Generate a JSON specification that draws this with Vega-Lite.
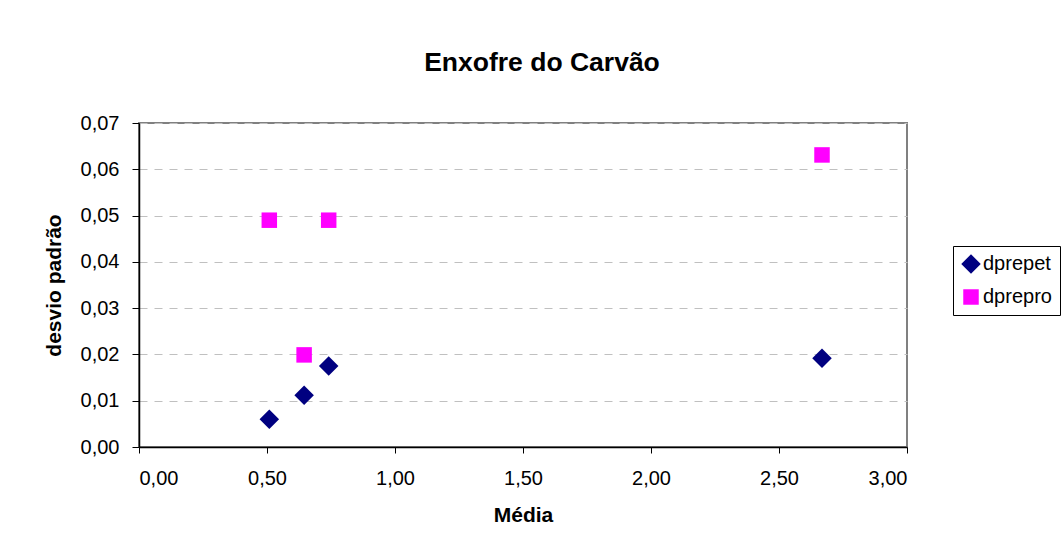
{
  "$schema": "https://vega.github.io/schema/vega-lite/v6.json",
  "width": 768,
  "height": 324,
  "autosize": "none",
  "padding": {"left": 139, "top": 123, "right": 157, "bottom": 111},
  "background": "white",
  "title": {
    "text": "Enxofre do Carvão",
    "font": "Liberation Sans",
    "fontSize": 26.5,
    "fontWeight": "bold",
    "color": "black",
    "anchor": "middle",
    "baseline": "alphabetic",
    "offset": 16,
    "dx": 19
  },
  "data": {
    "values": [
      {"serie": "dprepet", "media": 0.509, "desvio": 0.0060},
      {"serie": "dprepet", "media": 0.645, "desvio": 0.0112},
      {"serie": "dprepet", "media": 0.741, "desvio": 0.0175},
      {"serie": "dprepet", "media": 2.668, "desvio": 0.0192},
      {"serie": "dprepro", "media": 0.509, "desvio": 0.0490},
      {"serie": "dprepro", "media": 0.645, "desvio": 0.0199},
      {"serie": "dprepro", "media": 0.741, "desvio": 0.0490},
      {"serie": "dprepro", "media": 2.668, "desvio": 0.0631}
    ]
  },
  "mark": {"type": "point", "filled": true, "opacity": 1},
  "encoding": {
    "x": {
      "field": "media",
      "type": "quantitative",
      "title": "Média",
      "scale": {"domain": [0, 3], "nice": false, "zero": true},
      "axis": {
        "values": [0, 0.5, 1, 1.5, 2, 2.5, 3],
        "labelExpr": "replace(format(datum.value, '.2f'), '.', ',')",
        "grid": false,
        "tickSize": 6,
        "labelPadding": 15,
        "titlePadding": 16
      }
    },
    "y": {
      "field": "desvio",
      "type": "quantitative",
      "title": "desvio padrão",
      "scale": {"domain": [0, 0.07], "nice": false, "zero": true},
      "axis": {
        "values": [0, 0.01, 0.02, 0.03, 0.04, 0.05, 0.06, 0.07],
        "labelExpr": "replace(format(datum.value, '.2f'), '.', ',')",
        "grid": true,
        "gridColor": "#c0c0c0",
        "gridDash": [8, 7],
        "gridWidth": 1,
        "tickSize": 7,
        "labelPadding": 13,
        "titlePadding": 16
      }
    },
    "size": {
      "field": "serie",
      "type": "nominal",
      "scale": {"domain": ["dprepet", "dprepro"], "range": [380, 240]},
      "legend": null
    },
    "shape": {
      "field": "serie",
      "type": "nominal",
      "scale": {"domain": ["dprepet", "dprepro"], "range": ["diamond", "square"]},
      "legend": {
        "title": null,
        "orient": "none",
        "legendX": 814,
        "legendY": 123,
        "strokeColor": "black",
        "fillColor": "white",
        "padding": 8,
        "labelFontSize": 20,
        "labelFont": "Liberation Sans",
        "labelColor": "black",
        "symbolSize": 240,
        "symbolStrokeWidth": 0,
        "symbolOpacity": 1,
        "rowPadding": 13,
        "labelOffset": 2
      }
    },
    "color": {
      "field": "serie",
      "type": "nominal",
      "scale": {"domain": ["dprepet", "dprepro"], "range": ["#000080", "#ff00ff"]},
      "legend": {
        "title": null,
        "orient": "none",
        "legendX": 814,
        "legendY": 123,
        "strokeColor": "black",
        "fillColor": "white",
        "padding": 8,
        "labelFontSize": 20,
        "labelFont": "Liberation Sans",
        "labelColor": "black",
        "symbolSize": 240,
        "symbolStrokeWidth": 0,
        "symbolOpacity": 1,
        "rowPadding": 13,
        "labelOffset": 2
      }
    }
  },
  "config": {
    "view": {"stroke": "#808080", "strokeWidth": 2},
    "axis": {
      "labelFont": "Liberation Sans",
      "labelFontSize": 20,
      "labelColor": "black",
      "titleFont": "Liberation Sans",
      "titleFontSize": 21,
      "titleFontWeight": "bold",
      "titleColor": "black",
      "domainColor": "black",
      "domainWidth": 1.5,
      "tickColor": "black",
      "tickWidth": 1
    }
  }
}
